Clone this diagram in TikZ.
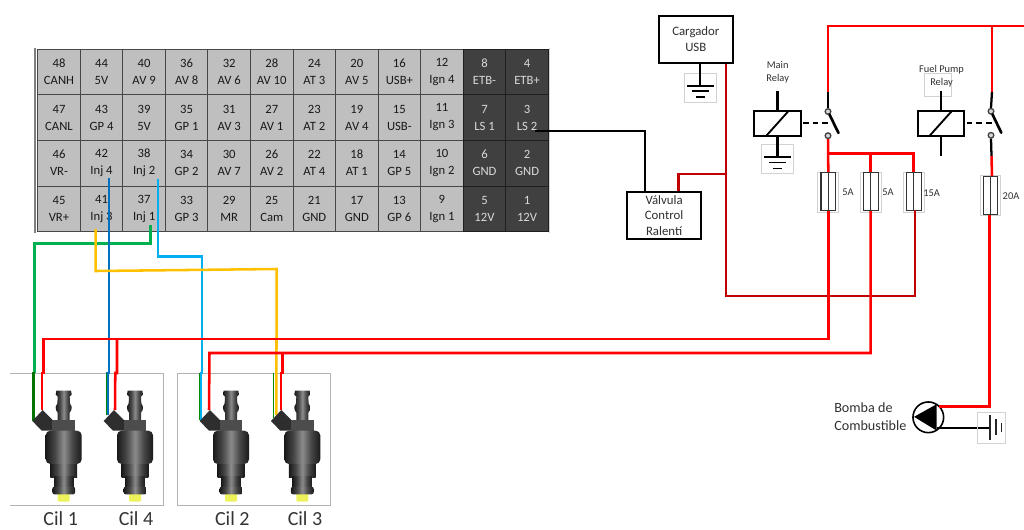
\documentclass[tikz,border=0pt]{standalone}
\usepackage{fontspec}
\setmainfont{Carlito}
\usetikzlibrary{calc}
\definecolor{wred}{HTML}{FF0000}
\definecolor{dred}{HTML}{C00000}
\definecolor{wgreen}{HTML}{00B050}
\definecolor{wblue}{HTML}{0070C0}
\definecolor{wcyan}{HTML}{00B0F0}
\definecolor{wyel}{HTML}{FFC000}
\definecolor{txt}{HTML}{303030}
\definecolor{ghostc}{HTML}{D2D2D2}
\definecolor{tipc}{HTML}{EDF25C}
\pgfdeclarehorizontalshading{injsh}{100bp}{color(0bp)=(black!90); color(25bp)=(black!90); color(38bp)=(black!72); color(50bp)=(black!45); color(62bp)=(black!72); color(75bp)=(black!90); color(100bp)=(black!90)}
\tikzset{
 pinbase/.style={line width=.7pt,inner sep=0pt,minimum width=31.9pt,minimum height=34.24pt,align=center,font=\fontsize{9.5}{12.75}\selectfont},
 pinlight/.style={pinbase,draw=black!72,fill=black!25,text=black!90},
 pindark/.style={pinbase,draw=black!88,fill=black!75,text=black!15},
 wire/.style={line width=1.9pt,line join=miter},
 redw/.style={wire,draw=wred},
 dredw/.style={line width=2.1pt,line join=miter,draw=dred},
 blk/.style={line width=1.7pt,draw=black},
 ghost/.style={draw=ghostc,line width=.5pt},
 label/.style={inner sep=0pt,text=txt,font=\fontsize{10.6}{12}\selectfont},
 small/.style={inner sep=0pt,text=txt,font=\fontsize{7.8}{9.5}\selectfont,align=center},
 cil/.style={inner sep=0pt,text=black!80,font=\fontsize{15}{17}\selectfont},
 boxn/.style={draw=black,line width=1.4pt,fill=white,inner sep=0pt,align=center,text=txt,font=\fontsize{9.6}{11}\selectfont},
 fuse/.style={draw=black!80,fill=white,line width=.8pt,inner sep=0pt,minimum width=11pt,minimum height=28.5pt,
   path picture={\draw[black!80,line width=.7pt] (path picture bounding box.north) -- (path picture bounding box.south);}},
 relay/.style={draw=black,line width=1.4pt,fill=white,inner sep=0pt,minimum width=34.8pt,minimum height=18.5pt,
   path picture={\draw[black,line width=1.4pt] ($(path picture bounding box.south)+(-8.3pt,0)$) -- ($(path picture bounding box.north)+(8.3pt,0)$);}},
 contact/.style={circle,draw=black!75,fill=black!15,line width=1pt,inner sep=0pt,minimum size=4.2pt},
 earth/.pic={
   \draw[ghost] (-15.7,-12.4) rectangle (15.7,16.3);
   \draw[blk] (-13.2,0) -- (13.2,0);
   \draw[line width=1.2pt] (-8.8,5.4) -- (8.8,5.4);
   \draw[line width=1.2pt] (-4.5,11.3) -- (4.5,11.3);
 },
 injector/.pic={
  \begin{scope}[scale=1/3]
   \fill[black!82] (-94,183) -- (-63,150) -- (-33,180) -- (-33,212) -- (-66,212) -- cycle;
   \shade[shading=injsh]
     (-22,92) -- (22,92) -- (24,104) -- (18,110) -- (19,130) -- (24,140) -- (23,150) -- (18,158) -- (18,180)
     -- (-18,180) -- (-18,158) -- (-23,150) -- (-24,140) -- (-19,130) -- (-18,110) -- (-24,104) -- cycle;
   \fill[black!70] (-34,180) rectangle (34,212);
   \shade[shading=injsh] (-40,305) rectangle (40,352);
   \shade[shading=injsh] (-29,350) rectangle (29,382);
   \fill[tipc] (-18,398) [rounded corners=1pt] rectangle (18,425);
   \shade[shading=injsh,rounded corners=1.5pt] (-34,380) rectangle (34,403);
   \shade[shading=injsh,rounded corners=3.5pt] (-54,212) rectangle (54,312);
  \end{scope}
 }
}
\newcommand{\pincell}[4]{%
  \ifnum#1>9 \def\pinsty{pindark}\else\def\pinsty{pinlight}\fi
  \node[\pinsty] (p#3) at ({59+42.55*#1},{71.85+45.65*#2}) {#3\\#4};}
\begin{document}
\begin{tikzpicture}[x=0.75pt,y=-0.75pt]
\useasboundingbox (0,0) rectangle (1024,529);
% connector block
\draw[black!50,line width=.9pt] (35,48) -- (35,233);
\draw[ghostc,line width=.7pt] (549.5,48) -- (549.5,233);
\foreach \c/\na/\la/\nb/\lb/\nc/\lc/\nd/\ld in {
 0/48/CANH/47/CANL/46/VR-/45/VR+,
 1/44/5V/43/GP 4/42/Inj 4/41/Inj 3,
 2/40/AV 9/39/5V/38/Inj 2/37/Inj 1,
 3/36/AV 8/35/GP 1/34/GP 2/33/GP 3,
 4/32/AV 6/31/AV 3/30/AV 7/29/MR,
 5/28/AV 10/27/AV 1/26/AV 2/25/Cam,
 6/24/AT 3/23/AT 2/22/AT 4/21/GND,
 7/20/AV 5/19/AV 4/18/AT 1/17/GND,
 8/16/USB+/15/USB-/14/GP 5/13/GP 6,
 9/12/Ign 4/11/Ign 3/10/Ign 2/9/Ign 1,
 10/8/ETB-/7/LS 1/6/GND/5/12V,
 11/4/ETB+/3/LS 2/2/GND/1/12V}{
  \pincell{\c}{0}{\na}{\la}
  \pincell{\c}{1}{\nb}{\lb}
  \pincell{\c}{2}{\nc}{\lc}
  \pincell{\c}{3}{\nd}{\ld}
}
% injector frames
\draw[black!30,line width=.6pt] (10,373.3) -- (163.3,373.3) -- (163.3,505.3) -- (10,505.3);
\draw[black!30,line width=.6pt] (177.3,373.3) rectangle (330.3,505.3);
% boxes
\node[boxn,minimum width=55.2pt,minimum height=35.5pt] (usb) at (695.8,39.3) {Cargador\\[1pt]USB};
\node[boxn,minimum width=55.7pt,minimum height=35.5pt] (valv) at (664.1,215.3) {Válvula\\[.5pt]Control\\[.5pt]Ralentí};
% relays
\node[relay] (mr) at (777.5,123.3) {};
\node[relay] (fr) at (940.8,123.3) {};
% fuses
\draw[ghost] (817.3,172) rectangle (838.3,212);
\draw[ghost] (860.3,172) rectangle (881,212);
\draw[ghost] (903.3,172) rectangle (924,212);
\draw[ghost] (980.3,175.5) rectangle (1000.3,215.5);
\draw[ghost] (924.3,73) rectangle (951.7,96.7);
\coordinate (top) at (1024,26);
\coordinate (jm) at (828,153.3);
\node[fuse] (f1) at (828.3,191.7) {};
\node[fuse] (f2) at (870.7,191.7) {};
\node[fuse] (f3) at (913.7,191.7) {};
\node[fuse] (f4) at (990.5,195.3) {};
% contacts
\node[contact] (mc1) at (828,111.5) {};
\node[contact] (mc2) at (828,135.7) {};
\node[contact] (fc1) at (991,111.3) {};
\node[contact] (fc2) at (991,135.3) {};
\coordinate (mb) at (838.5,133);
\coordinate (fb) at (1001.3,132.7);
\coordinate (mt) at (828,91.7);
\coordinate (ft) at (992,91.5);
\coordinate (fs) at (991.5,156);
% grounds
\coordinate (eu) at (700.3,85.7);
\coordinate (em) at (777.5,157);
\path (eu) pic {earth};
\path (em) pic {earth};
\coordinate (mrt) at (777.5,90.7);
\coordinate (frt) at (940.8,91);
\coordinate (frb) at (940.8,156);
% relay leads
\draw[blk] (mr.north) -- (mrt);
\draw[blk] (mr.south) -- (em);
\draw[blk] (fr.north) -- (frt);
\draw[blk] (fr.south) -- (frb);
\draw[blk] (usb.south -| eu) -- (eu);
% relay switches
\draw[blk,dash pattern=on 4.2pt off 3pt] (803,123.3) -- (828,123.3);
\draw[blk,dash pattern=on 4.2pt off 3pt] (966.7,123.3) -- (991.7,123.3);
\draw[blk,line cap=round,line width=2pt] (mc1) -- (mb);
\draw[blk,line cap=round,line width=2pt] (fc1) -- (fb);
\draw[blk] (mc1.north) -- (mt);
\draw[blk] (fc1.north) -- (ft);
\draw[blk] (fc2.south) -- (fs);
% power rails
\draw[redw] (mt) -- (mt |- top) -- (top);
\draw[redw] (ft) -- (ft |- top);
\draw[redw] (mc2.south) -- (f1.north);
\draw[redw] (jm) -- (jm -| f3) -- (f3.north);
\draw[redw] (f2.north) -- (f2.north |- jm);
\draw[redw] (fs) -- (992,176) ;
% dark loop
\coordinate (lb) at (726,296);
\coordinate (lv) at (678.7,174);
\coordinate (f3b) at (915,210);
\draw[dredw] (f3b) -- (f3b |- lb) -- (lb) -- (lb |- usb.south);
\draw[dredw] (lb |- lv) -- (lv) -- (lv |- valv.north);
% black signal
\coordinate (w3) at (535,130.7);
\coordinate (vs) at (645,191.7);
\draw[blk] (w3) -- (w3 -| vs) -- (vs);
% injector wires
\coordinate (c1g) at (33.5,421);
\coordinate (c1r) at (42,410);
\coordinate (c4b) at (107.7,415);
\coordinate (c4r) at (115,410);
\coordinate (c2c) at (201,420);
\coordinate (c2r) at (209,410);
\coordinate (c3y) at (276.3,415);
\coordinate (c3r) at (281,410);
\coordinate (w37) at (150.3,225);
\coordinate (w42) at (109,178);
\coordinate (w38) at (158,179);
\coordinate (w41) at (95.7,229);
\draw[wire,draw=wgreen] (w37) -- (150.3,243.3) -- (34.7,243.3) -- (34.7,373);
\draw[wire,draw=green!45!black] (34.7,373) -- (33.5,373) -- (c1g);
\draw[wire,draw=wblue] (w42) -- (109,373) -- (107.7,373) -- (c4b);
\draw[wire,draw=wcyan] (w38) -- (158,256.7) -- (202,256.7) -- (202,373) -- (201,373) -- (c2c);
\draw[wire,draw=wyel] (w41) -- (95.7,271) -- (276.7,269) -- (276.3,415);
\draw[line width=.8pt,draw=green!55!black] (273.8,373) -- (273.8,418);
\draw[line width=.8pt,draw=green!55!black] (199.6,373) -- (199.6,420);
\draw[line width=.8pt,draw=green!55!black] (106.3,373) -- (106.3,415);
% injector power
\draw[redw] (f1.south) -- (828.3,339) -- (43.5,339) -- (43.5,373) -- (42,373) -- (c1r);
\draw[redw] (117,339) -- (117,373) -- (115.3,373) -- (c4r);
\draw[redw] (f2.south) -- (870.7,353) -- (209.5,353) -- (c2r);
\draw[redw] (282.7,353) -- (282.7,373) -- (281,373) -- (c3r);
% injectors
\path (63.7,360) pic {injector};
\path (135,360) pic {injector};
\path (231,360) pic {injector};
\path (302.3,360) pic {injector};
% fuel pump
\node[circle,draw=black,line width=1.2pt,fill=white,minimum size=23pt,inner sep=0pt] (pump) at (928.3,417.3) {};
\fill[black] (914,416.8) -- (936.5,404.3) -- (936.5,430.5) -- cycle;
\coordinate (pr) at (939,406.7);
\coordinate (pb) at (936.7,427.7);
\coordinate (bt) at (990,427.7);
\draw[redw] (f4.south -| 989.3,0) -- (989.3,406.7) -- (pr);
\draw[blk] (pb) -- (bt);
\draw[ghost] (977.7,412.3) rectangle (1005.7,443.3);
\draw[line width=1.1pt,draw=black!85] (990,415) -- (990,440);
\draw[line width=1.1pt,draw=black!85] (996,419.3) -- (996,435);
\draw[line width=1.1pt,draw=black!85] (1001.7,423) -- (1001.7,431.7);
% texts
\node[small] (tm) at (777.7,72.3) {Main\\Relay};
\node[small] (tf) at (941.5,76.3) {Fuel Pump\\Relay};
\node[small] (t5a) at (848,192) {5A};
\node[small] (t5b) at (888,192) {5A};
\node[small] (t15) at (931.7,192.7) {15A};
\node[small] (t20) at (1011,196) {20A};
\node[label,align=left,anchor=west] (tb) at (834,416.7) {Bomba de\\[1pt]Combustible};
\node[cil] (c1) at (60.7,519) {Cil 1};
\node[cil] (c4) at (136,518.5) {Cil 4};
\node[cil] (c2) at (232.3,519) {Cil 2};
\node[cil] (c3) at (305,518.5) {Cil 3};
\end{tikzpicture}
\end{document}
